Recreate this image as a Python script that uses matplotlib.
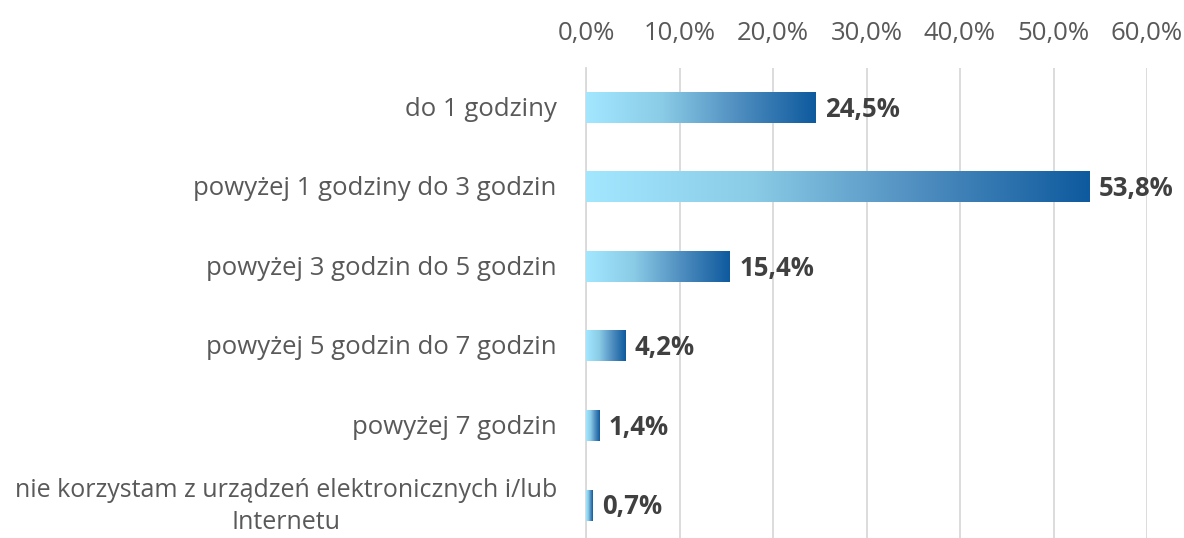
import matplotlib
matplotlib.use("Agg")
import matplotlib.pyplot as plt
import numpy as np
from matplotlib.colors import LinearSegmentedColormap
from matplotlib.ticker import FuncFormatter

categories = ["do 1 godziny",
              "powyżej 1 godziny do 3 godzin",
              "powyżej 3 godzin do 5 godzin",
              "powyżej 5 godzin do 7 godzin",
              "powyżej 7 godzin",
              "nie korzystam z urządzeń elektronicznych i/lub\nInternetu"]
values = [24.5, 53.8, 15.4, 4.2, 1.4, 0.7]
xticks = [0, 10, 20, 30, 40, 50, 60]

plt.rcParams['font.family'] = ['Open Sans', 'DejaVu Sans']

fig = plt.figure(figsize=(11.84, 5.38), dpi=100)
ax = fig.add_axes([586/1184, 0, (1147-586)/1184, 1-68/538])

cmap = LinearSegmentedColormap.from_list("g", ["#A3E7FF", "#8ACBE6", "#4E8DBF", "#0E5A9E"])
grad = np.linspace(0, 1, 256).reshape(1, -1)
h = 0.38
ypos = np.arange(len(categories))
for y, v in zip(ypos, values):
    ax.imshow(grad, cmap=cmap, extent=[0, v, y + h/2, y - h/2], aspect='auto', zorder=3,
              interpolation='bilinear')
    ax.annotate(f"{v:.1f}%".replace('.', ','), xy=(v, y), xytext=(7, -1),
                textcoords='offset points', va='center', ha='left',
                fontsize=18.5, fontweight='bold', color='#404040', zorder=4)

ax.set_xlim(0, 60)
ax.set_ylim(5.41, -0.5)
ax.set_yticks(ypos)
ax.set_yticklabels([])
ax.tick_params(axis='y', length=0, pad=0)
for y, c in zip(ypos, categories):
    fs = 18.0 if '\n' in c else 18.5
    ax.annotate(c, xy=(0, y), xytext=(-21, -1), textcoords='offset points',
                ha='right', va='center', fontsize=fs, color='#595959',
                multialignment='center', linespacing=1.35)

ax.set_xticks(xticks)
ax.xaxis.set_major_formatter(FuncFormatter(lambda x, p: f"{x:.1f}%".replace('.', ',')))
ax.xaxis.tick_top()
ax.tick_params(axis='x', length=0, pad=16, labelsize=18.5, labelcolor='#595959')
ax.grid(axis='x', color='#D9D9D9', linewidth=1.3, zorder=0)
for s in ['top', 'right', 'bottom']:
    ax.spines[s].set_visible(False)
ax.spines['left'].set_color('#D9D9D9')
ax.spines['left'].set_linewidth(1.3)

fig.savefig("out.png", dpi=100)
